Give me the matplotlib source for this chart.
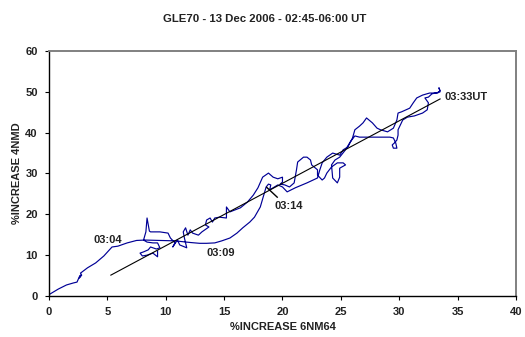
import matplotlib
matplotlib.use("Agg")
import matplotlib.pyplot as plt

plt.rcParams['font.family'] = ['Liberation Sans', 'DejaVu Sans']
plt.rcParams['font.weight'] = 'bold'

# %increase 6NM64 (x) vs %increase 4NMD (y), 02:45-06:00 UT
nm64_pct = [0.1, 0.8, 1.5, 2.1, 2.4, 2.6, 2.7, 2.6, 2.8, 2.7, 3.3, 4.0, 4.7, 5.4, 5.9, 6.7, 7.5, 8.2,
            9.5, 10.8, 12.1, 12.9, 13.5, 14.2, 14.8, 15.5, 16.1, 16.6, 17.2, 17.6, 18.1, 18.4, 18.6,
            18.8, 19.0, 18.9, 19.2, 19.6, 20.0, 20.4, 21.1, 22.1, 23.0, 23.2, 23.4, 23.8, 24.3, 24.9,
            25.2, 25.6, 26.0, 26.2, 26.6, 26.9, 27.2, 27.7, 28.1, 28.4, 29.0, 29.5, 29.8, 29.9, 30.2,
            30.9, 31.2, 31.5, 32.0, 32.6, 33.3, 33.5, 33.4,
            33.5, 32.8, 32.5, 32.2, 32.5, 32.4, 32.0, 31.3, 30.7, 30.3, 30.1, 29.9, 29.9, 29.8, 29.6,
            29.4, 29.5, 29.8, 29.7, 29.5, 29.2, 28.4, 27.5, 26.6, 26.2, 25.8, 25.4, 24.9, 24.5, 24.2,
            24.3, 24.7, 24.9, 24.9, 25.4, 25.2, 24.7, 24.2, 23.8, 23.6, 23.4, 23.0, 23.0, 22.5, 22.4,
            22.1, 21.8, 21.3, 21.2, 21.0, 20.6, 20.2, 19.8, 20.0, 20.0, 19.6, 19.2, 18.8, 18.3, 17.9,
            17.5, 17.0, 16.4, 15.5, 15.2, 15.2, 14.6, 14.2, 14.0, 13.8, 13.5, 13.4, 13.7, 13.1, 12.8,
            12.3, 12.1, 11.9, 11.7, 11.5, 11.6, 11.8, 11.2, 11.0, 10.6, 10.8, 10.4, 10.2, 9.5, 8.7,
            8.6, 8.4, 8.3, 8.1, 8.4, 8.9, 9.3, 9.5, 9.2, 8.7, 8.5, 8.1, 7.8, 8.0, 8.4, 8.9, 9.3, 9.3]
nmd_pct = [0.5, 1.7, 2.7, 3.2, 3.4, 4.7, 5.1, 4.4, 5.1, 5.6, 6.9, 8.1, 9.8, 12.0, 12.2, 13.0, 13.6, 13.7,
           13.6, 13.5, 13.1, 12.9, 12.9, 13.0, 13.5, 14.2, 15.4, 16.7, 18.1, 19.3, 21.8, 24.7, 26.7,
           27.4, 27.2, 26.0, 26.5, 27.2, 26.7, 25.5, 26.5, 27.7, 28.9, 30.9, 32.6, 34.0, 35.0, 34.5,
           35.8, 36.5, 38.7, 40.7, 41.6, 42.4, 43.6, 42.4, 41.1, 40.7, 40.2, 41.1, 43.1, 44.8, 45.1,
           46.0, 47.3, 48.5, 49.2, 49.7, 49.7, 50.3, 51.0,
           50.0, 49.5, 48.7, 48.5, 47.3, 45.6, 44.8, 44.1, 43.8, 43.1, 41.9, 40.7, 39.4, 38.2, 37.5,
           37.0, 36.2, 36.2, 37.5, 38.7, 38.9, 38.9, 38.9, 38.9, 39.2, 37.7, 35.8, 34.0, 33.3, 32.1,
           28.9, 27.7, 29.1, 31.3, 32.1, 32.6, 32.6, 31.6, 30.1, 28.9, 28.4, 29.6, 30.9, 32.1, 33.3,
           34.0, 34.0, 32.8, 30.9, 27.7, 26.7, 27.2, 27.4, 27.9, 29.1, 28.7, 29.1, 30.1, 29.1, 26.5,
           24.7, 23.0, 21.6, 20.6, 21.8, 19.1, 19.3, 19.1, 18.1, 19.1, 18.6, 17.4, 16.9, 15.7, 14.9,
           15.4, 16.2, 14.9, 16.7, 15.7, 14.2, 11.8, 12.5, 13.7, 12.0, 13.0, 14.2, 15.4, 15.7, 15.7,
           15.9, 19.1, 15.7, 13.7, 13.2, 13.0, 13.0, 11.8, 11.5, 12.0, 11.3, 10.8, 10.5, 9.8, 10.0,
           10.5, 9.6, 11.0]

# linear fit shown as the black line
fit_x_range = [5.3, 33.5]
fit_slope = 1.53
fit_intercept = -3.0

# time labels: (text, x, y)
time_labels = [("03:04", 5.05, 13.7), ("03:09", 14.7, 10.5), ("03:14", 20.5, 22.0)]
peak_label = ("03:33UT", 33.9, 48.8)
pointer_0314 = [(18.65, 26.6), (19.55, 24.2)]

x_ticks = [0, 5, 10, 15, 20, 25, 30, 35, 40]
y_ticks = [0, 10, 20, 30, 40, 50, 60]

FS = 8.0
TXT = '#222222'


def main():
    fig = plt.figure(figsize=(5.25, 3.37), dpi=100)
    ax = fig.add_axes([0.0933, 0.1217, 0.8895, 0.727])

    ax.plot(nm64_pct, nmd_pct, color='#000096', lw=0.85)
    fit_y = [fit_slope * v + fit_intercept for v in fit_x_range]
    ax.plot(fit_x_range, fit_y, color='black', lw=0.8)
    ax.plot([p[0] for p in pointer_0314], [p[1] for p in pointer_0314], color='black', lw=1.0)

    for txt, x, y in time_labels:
        ax.text(x, y, txt, ha='center', va='center', fontsize=FS, fontweight='bold', color=TXT)
    ax.text(peak_label[1], peak_label[2], peak_label[0], ha='left', va='center',
            fontsize=FS, fontweight='bold', color=TXT)

    ax.set_xlim(0, 40)
    ax.set_ylim(0, 60)
    ax.set_xticks(x_ticks)
    ax.set_yticks(y_ticks)
    ax.tick_params(direction='out', length=3, width=0.8, labelsize=FS, pad=5, colors='black')
    for lab in ax.get_xticklabels() + ax.get_yticklabels():
        lab.set_fontweight('bold')
        lab.set_color(TXT)

    for side in ['left', 'bottom']:
        ax.spines[side].set_color('black')
        ax.spines[side].set_linewidth(1.0)
    for side in ['top', 'right']:
        ax.spines[side].set_color('#808080')
        ax.spines[side].set_linewidth(1.4)

    ax.set_xlabel('%INCREASE 6NM64', fontsize=FS, fontweight='bold', color=TXT)
    ax.set_ylabel('%INCREASE 4NMD', fontsize=FS, fontweight='bold', color=TXT)
    ax.xaxis.set_label_coords(0.5, -0.127)
    ax.yaxis.set_label_coords(-0.0685, 0.502)
    ax.xaxis.label.set_va('center')
    ax.yaxis.label.set_va('center')

    fig.text(0.505, 0.943, 'GLE70 - 13 Dec 2006 - 02:45-06:00 UT', ha='center', va='center',
             fontsize=8.2, fontweight='bold', color=TXT)

    fig.savefig('out.png', dpi=100)


if __name__ == "__main__":
    main()
